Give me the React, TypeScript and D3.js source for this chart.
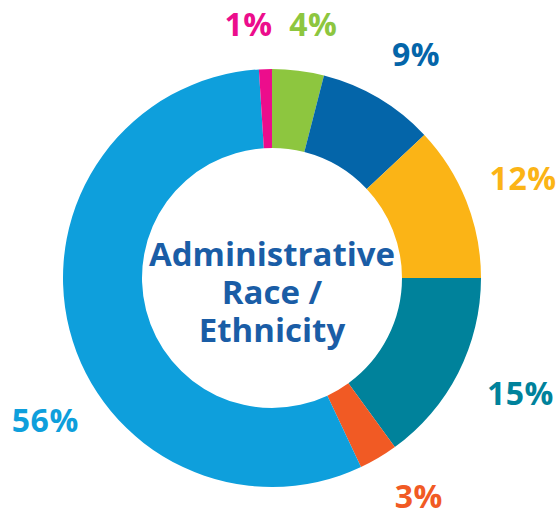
import React from "react";
import * as d3 from "d3";

const categories = ["Green", "Dark Blue", "Yellow", "Teal", "Orange", "Light Blue", "Pink"];
const values = [4, 9, 12, 15, 3, 56, 1];
const labels = ["4%", "9%", "12%", "15%", "3%", "56%", "1%"];
const colors = ["#8DC63F", "#0465A9", "#FBB416", "#00829B", "#F15A24", "#0E9FDC", "#EC0D8C"];
const titleLines = ["Administrative", "Race /", "Ethnicity"];

const width = 557;
const height = 514;
const cx = 272;
const cy = 278;
const outerR = 209;
const innerR = 130;
const labelFont = 32;

// angle nudge (radians) and radius for each outside label, to sit where the original had them
const placement: Record<string, { da: number; r: number }> = {
  "4%": { da: 0.036, r: 257 },
  "9%": { da: 0.038, r: 266 },
  "12%": { da: 0, r: 270 },
  "15%": { da: -0.036, r: 274 },
  "3%": { da: -0.058, r: 263 },
  "56%": { da: -0.311, r: 268 },
  "1%": { da: -0.061, r: 255 },
};

const App: React.FC = () => {
  const pie = d3
    .pie<number>()
    .sort(null)
    .value((d) => d);
  const arcs = pie(values);
  const arc = d3
    .arc<d3.PieArcDatum<number>>()
    .innerRadius(innerR)
    .outerRadius(outerR);

  return (
    <svg width={width} height={height} style={{ position: "absolute", left: 0, top: 0 }}>
      <rect width={width} height={height} fill="#ffffff" />
      <g transform={`translate(${cx},${cy})`}>
        {arcs.map((a, i) => (
          <path key={categories[i]} d={arc(a) || ""} fill={colors[i]} />
        ))}
        {arcs.map((a, i) => {
          const p = placement[labels[i]];
          const ang = (a.startAngle + a.endAngle) / 2 + p.da;
          const x = p.r * Math.sin(ang);
          const y = -p.r * Math.cos(ang) + labelFont * 0.357;
          return (
            <text
              key={"l" + i}
              x={x}
              y={y}
              textAnchor="middle"
              fontFamily="'Open Sans', sans-serif"
              fontWeight={700}
              fontSize={labelFont}
              letterSpacing={0.5}
              fill={colors[i]}
            >
              {labels[i]}
            </text>
          );
        })}
        {titleLines.map((t, i) => (
          <text
            key={t}
            x={0}
            y={-12 + i * 38}
            textAnchor="middle"
            fontFamily="'Open Sans', sans-serif"
            fontWeight={700}
            fontSize={33}
            fill="#1A5DA6"
          >
            {t}
          </text>
        ))}
      </g>
    </svg>
  );
};

export default App;
